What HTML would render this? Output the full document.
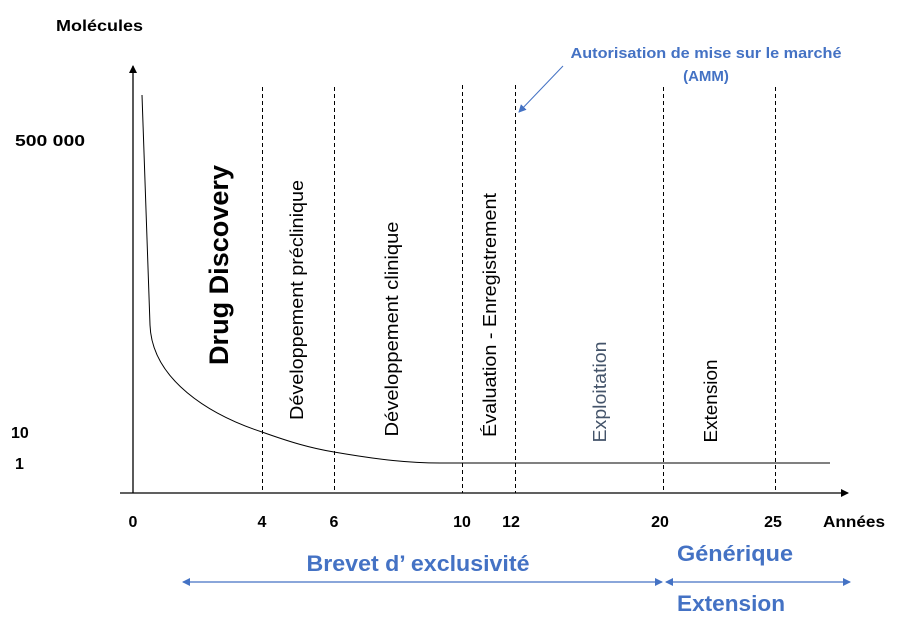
<!DOCTYPE html>
<html><head><meta charset="utf-8"><style>
body{margin:0;background:#fff}
svg text{font-family:"Liberation Sans",sans-serif}
</style></head><body>
<svg width="908" height="623" viewBox="0 0 908 623" xmlns="http://www.w3.org/2000/svg">
<defs>
<marker id="ab" markerWidth="8" markerHeight="8" refX="7" refY="4" orient="auto" markerUnits="userSpaceOnUse"><path d="M0,0 L8,4 L0,8 z" fill="#000"/></marker>
<marker id="bl" markerWidth="8" markerHeight="8" refX="7" refY="4" orient="auto-start-reverse" markerUnits="userSpaceOnUse"><path d="M0,0 L8,4 L0,8 z" fill="#4472c4"/></marker>
</defs>
<line x1="133" y1="493" x2="133" y2="66" stroke="#000" stroke-width="1.3" marker-end="url(#ab)"/>
<line x1="120" y1="493" x2="848" y2="493" stroke="#000" stroke-width="1.3" marker-end="url(#ab)"/>
<g stroke="#000" stroke-width="1" stroke-dasharray="4,3">
<line x1="262.5" y1="87" x2="262.5" y2="493"/><line x1="334.5" y1="87" x2="334.5" y2="493"/>
<line x1="462.5" y1="85" x2="462.5" y2="493"/><line x1="515.5" y1="85" x2="515.5" y2="493"/>
<line x1="663.5" y1="87" x2="663.5" y2="493"/><line x1="775.5" y1="87" x2="775.5" y2="493"/>
</g>
<path d="M142,95 L150,325 C152,380 210,415 262,432 C290,442 310,448 334,452 C380,460 410,463 440,463 L830,463" fill="none" stroke="#000" stroke-width="1"/>
<line x1="563" y1="66" x2="519" y2="112" stroke="#4472c4" stroke-width="1" marker-end="url(#bl)"/>
<g font-weight="bold" font-size="16" fill="#000" lengthAdjust="spacingAndGlyphs">
<text x="56" y="31" textLength="87" lengthAdjust="spacingAndGlyphs">Molécules</text>
<text x="15" y="146" textLength="70" lengthAdjust="spacingAndGlyphs">500 000</text>
<text x="11" y="438">10</text>
<text x="15" y="469">1</text>
<g text-anchor="middle"><text x="133" y="527">0</text><text x="262" y="527">4</text><text x="334" y="527">6</text><text x="462" y="527">10</text><text x="511" y="527">12</text><text x="660" y="527">20</text><text x="773" y="527">25</text><text x="854" y="527" textLength="62" lengthAdjust="spacingAndGlyphs">Années</text></g>
</g>
<g text-anchor="middle" fill="#000" font-size="18">
<text transform="translate(228,265) rotate(-90)" font-size="27" font-weight="bold" textLength="200" lengthAdjust="spacingAndGlyphs">Drug Discovery</text>
<text transform="translate(303,300) rotate(-90)" textLength="240" lengthAdjust="spacingAndGlyphs">Développement préclinique</text>
<text transform="translate(398,329) rotate(-90)" textLength="215" lengthAdjust="spacingAndGlyphs">Développement clinique</text>
<text transform="translate(496,315) rotate(-90)" textLength="244" lengthAdjust="spacingAndGlyphs">Évaluation  - Enregistrement</text>
<text transform="translate(606,392) rotate(-90)" fill="#44546a" textLength="101" lengthAdjust="spacingAndGlyphs">Exploitation</text>
<text transform="translate(717,401) rotate(-90)" textLength="83" lengthAdjust="spacingAndGlyphs">Extension</text>
</g>
<g fill="#4472c4" font-weight="bold" text-anchor="middle">
<text x="706" y="58" font-size="15" textLength="271" lengthAdjust="spacingAndGlyphs">Autorisation de mise sur le marché</text>
<text x="706" y="81" font-size="15">(AMM)</text>
<text x="418" y="571" font-size="22" textLength="223" lengthAdjust="spacingAndGlyphs">Brevet d’ exclusivité</text>
<text x="735" y="561" font-size="22" textLength="116" lengthAdjust="spacingAndGlyphs">Générique</text>
<text x="731" y="611" font-size="22" textLength="108" lengthAdjust="spacingAndGlyphs">Extension</text>
</g>
<line x1="183" y1="582" x2="662" y2="582" stroke="#4472c4" stroke-width="1.3" marker-start="url(#bl)" marker-end="url(#bl)"/>
<line x1="666" y1="582" x2="850" y2="582" stroke="#4472c4" stroke-width="1.3" marker-start="url(#bl)" marker-end="url(#bl)"/>
</svg>
</body></html>
